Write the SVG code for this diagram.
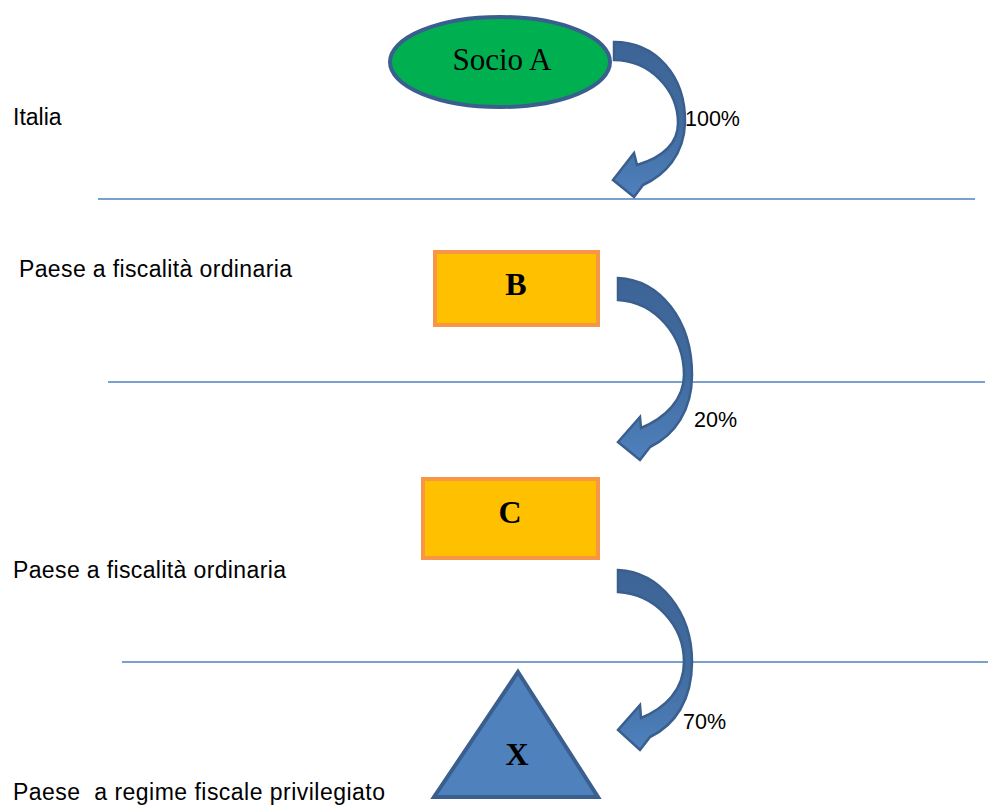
<svg xmlns="http://www.w3.org/2000/svg" width="988" height="811" viewBox="0 0 988 811">
<style>
.lbl{font-family:"Liberation Sans",Arial,sans-serif;font-size:23px;fill:#000;white-space:pre}
.pct{font-family:"Liberation Sans",Arial,sans-serif;font-size:21.5px;fill:#000}
.node{font-family:"Liberation Serif","Times New Roman",serif;fill:#000;text-anchor:middle}
.sep{stroke:#4F81BD;stroke-width:1.6;fill:none}
.box{fill:#FFC000;stroke:#F79646;stroke-width:4}
.arr{fill:url(#ag);stroke:#3A5F8F;stroke-width:2.5;stroke-linejoin:miter}
</style>
<defs>
<linearGradient id="ag" x1="0" y1="0" x2="0" y2="1">
<stop offset="0" stop-color="#3D6496"/>
<stop offset="0.55" stop-color="#416C9F"/>
<stop offset="1" stop-color="#4F81BD"/>
</linearGradient>
</defs>
<rect width="988" height="811" fill="#fff"/>
<g id="separators">
<line class="sep" x1="98" y1="199" x2="975" y2="199"/>
<line class="sep" x1="108" y1="382" x2="985" y2="382"/>
<line class="sep" x1="122" y1="662" x2="988" y2="662"/>
</g>
<g id="labels">
<text class="lbl" x="13" y="125">Italia</text>
<text class="lbl" x="19" y="277" textLength="273">Paese a fiscalità ordinaria</text>
<text class="lbl" x="13" y="578" textLength="273">Paese a fiscalità ordinaria</text>
<text class="lbl" x="13" y="800" textLength="372">Paese  a regime fiscale privilegiato</text>
</g>
<g id="connectors">
<path class="arr" d="M614,42 C655,42 686,75 685,123 C684,155 665,175 643,185 L634,197 L613,180 L634,153 L637,165 C660,158 678,145 678,123 C678,90 650,60 614,60 Z"/>
<path class="arr" d="M618,278 C660,280 692,320 692,375 C692,410 675,435 650,447 L640,460 L618,442 L640,417 L641,428 C665,418 684,400 684,375 C684,335 655,302 618,300 Z"/>
<path class="arr" d="M618,570 C660,572 692,612 692,662 C692,700 675,725 650,737 L640,750 L618,730 L640,705 L641,718 C665,708 684,690 684,662 C684,625 655,594 618,592 Z"/>
<text class="pct" x="685" y="126">100%</text>
<text class="pct" x="694" y="427">20%</text>
<text class="pct" x="683" y="729">70%</text>
</g>
<g id="socioA">
<ellipse cx="500" cy="62" rx="110" ry="45" fill="#00B050" stroke="#3A5F8F" stroke-width="4"/>
<text class="node" x="502" y="70" font-size="31">Socio A</text>
</g>
<g id="B">
<rect class="box" x="435" y="252" width="163" height="73"/>
<text class="node" x="516" y="295" font-size="32" font-weight="bold">B</text>
</g>
<g id="C">
<rect class="box" x="423" y="479" width="175" height="79"/>
<text class="node" x="510" y="523" font-size="32" font-weight="bold">C</text>
</g>
<g id="X">
<polygon points="518,672 598,797 434,797" fill="#4F81BD" stroke="#3A5F8F" stroke-width="4" stroke-linejoin="miter"/>
<text class="node" x="517" y="765" font-size="32" font-weight="bold">X</text>
</g>
</svg>
